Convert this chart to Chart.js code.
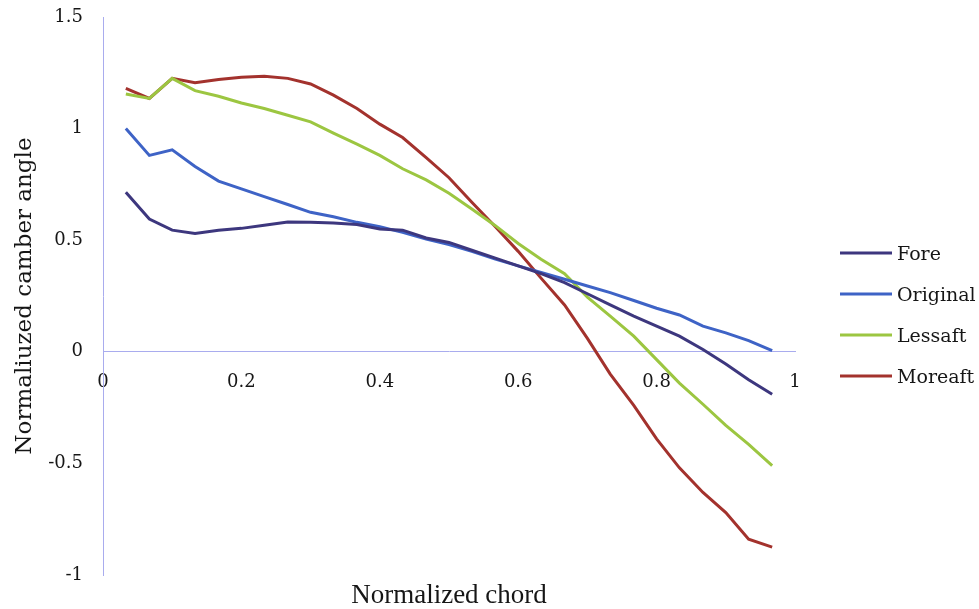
<!DOCTYPE html>
<html lang="en">
<head>
<meta charset="UTF-8">
<title>Normalized camber angle along the chord</title>
<script src="https://cdn.jsdelivr.net/npm/chart.js@4"></script>
<style>
    body { margin: 0; background: #fff; }
    #camberChart { display: block; }
</style>
</head>
<body>
<canvas id="camberChart" width="979" height="609"></canvas>
<script>
    // chord stations (x/c)
    var chord = [0.033, 0.067, 0.1, 0.133, 0.167, 0.2, 0.233, 0.267, 0.3, 0.333,
                 0.367, 0.4, 0.433, 0.467, 0.5, 0.533, 0.567, 0.6, 0.633, 0.667,
                 0.7, 0.733, 0.767, 0.8, 0.833, 0.867, 0.9, 0.933, 0.967];

    // normalized camber angle for each blade variant
    var fore = [0.715, 0.595, 0.545, 0.53, 0.545, 0.553, 0.567, 0.582, 0.58, 0.577,
                0.57, 0.55, 0.545, 0.51, 0.49, 0.455, 0.42, 0.385, 0.35, 0.31,
                0.26, 0.21, 0.16, 0.115, 0.07, 0.01, -0.055, -0.125, -0.19];
    var original = [1.0, 0.88, 0.905, 0.83, 0.765, 0.73, 0.695, 0.66, 0.625, 0.605,
                    0.58, 0.56, 0.535, 0.505, 0.48, 0.45, 0.415, 0.385, 0.355, 0.325,
                    0.295, 0.265, 0.23, 0.195, 0.165, 0.115, 0.085, 0.05, 0.005];
    var lessaft = [1.155, 1.135, 1.225, 1.17, 1.145, 1.115, 1.09, 1.06, 1.03, 0.98,
                   0.93, 0.88, 0.82, 0.77, 0.71, 0.64, 0.565, 0.485, 0.415, 0.35,
                   0.245, 0.16, 0.07, -0.035, -0.14, -0.235, -0.33, -0.415, -0.51];
    var moreaft = [1.18, 1.135, 1.225, 1.205, 1.22, 1.23, 1.235, 1.225, 1.2, 1.15,
                   1.09, 1.02, 0.96, 0.87, 0.78, 0.67, 0.56, 0.45, 0.33, 0.21,
                   0.06, -0.1, -0.24, -0.39, -0.52, -0.63, -0.72, -0.84, -0.875];

    var seriesNames = ['Fore', 'Original', 'Lessaft', 'Moreaft'];
    var seriesColors = ['#3d377e', '#3e63c6', '#9cc641', '#a3322d'];
    var seriesValues = [fore, original, lessaft, moreaft];

    var axisColor = '#a9acee';
    var textColor = '#161616';

    function toPoints(values) {
        return values.map(function (v, i) { return { x: chord[i], y: v }; });
    }

    // plain tick text: 0, 0.2, 1, 1.5 ...
    function plainTick(value) {
        return String(Math.round(value * 10) / 10);
    }

    // legend drawn as short line samples to the right of the plot
    var sideLegend = {
        id: 'sideLegend',
        afterDraw: function (chart, args, opts) {
            var ctx = chart.ctx;
            ctx.save();
            ctx.font = opts.font;
            ctx.textBaseline = 'middle';
            ctx.textAlign = 'left';
            chart.data.datasets.forEach(function (ds, i) {
                var y = opts.top + i * opts.spacing;
                ctx.strokeStyle = ds.borderColor;
                ctx.lineWidth = 3;
                ctx.beginPath();
                ctx.moveTo(opts.x, y);
                ctx.lineTo(opts.x + opts.lineLength, y);
                ctx.stroke();
                ctx.fillStyle = opts.color;
                ctx.fillText(ds.label, opts.x + opts.lineLength + opts.gap, y + 2);
            });
            ctx.restore();
        }
    };

    var datasets = seriesNames.map(function (name, i) {
        return {
            label: name,
            data: toPoints(seriesValues[i]),
            borderColor: seriesColors[i],
            backgroundColor: seriesColors[i],
            borderWidth: 3,
            pointRadius: 0,
            tension: 0,
            fill: false
        };
    });

    var ctx = document.getElementById('camberChart').getContext('2d');
    var myChart = new Chart(ctx, {
        type: 'line',
        data: { datasets: datasets },
        plugins: [sideLegend],
        options: {
            responsive: false,
            animation: false,
            devicePixelRatio: 1,
            layout: { padding: { top: 0, right: 184, bottom: 0, left: 0 } },
            scales: {
                x: {
                    type: 'linear',
                    min: 0,
                    max: 1,
                    position: { y: 0 },
                    grid: { display: false, drawTicks: false },
                    border: { color: axisColor, width: 1 },
                    ticks: {
                        stepSize: 0.2,
                        padding: 20,
                        maxRotation: 0,
                        color: textColor,
                        font: { family: 'DejaVu Serif', size: 18 },
                        callback: plainTick
                    }
                },
                y: {
                    min: -1,
                    max: 1.5,
                    grid: { display: false, drawTicks: false },
                    border: { color: axisColor, width: 1 },
                    ticks: {
                        stepSize: 0.5,
                        padding: 20,
                        color: textColor,
                        font: { family: 'DejaVu Serif', size: 18 },
                        callback: plainTick
                    },
                    title: {
                        display: true,
                        text: 'Normaliuzed camber angle',
                        color: textColor,
                        font: { family: 'DejaVu Serif', size: 23 },
                        padding: { top: 11, bottom: 0 }
                    },
                    afterFit: function (scale) {
                        scale.width = 103;
                        scale.paddingTop = 17;
                    }
                }
            },
            plugins: {
                legend: { display: false },
                tooltip: { enabled: false },
                title: {
                    display: true,
                    position: 'bottom',
                    fullSize: false,
                    text: 'Normalized chord',
                    color: textColor,
                    font: { family: 'Liberation Serif', size: 27, weight: 'normal', lineHeight: 1 },
                    padding: { top: 7, bottom: 0 }
                },
                sideLegend: {
                    x: 840,
                    top: 253,
                    spacing: 41,
                    lineLength: 52,
                    gap: 5,
                    color: textColor,
                    font: '19px "DejaVu Serif"'
                }
            }
        }
    });
</script>
</body>
</html>
